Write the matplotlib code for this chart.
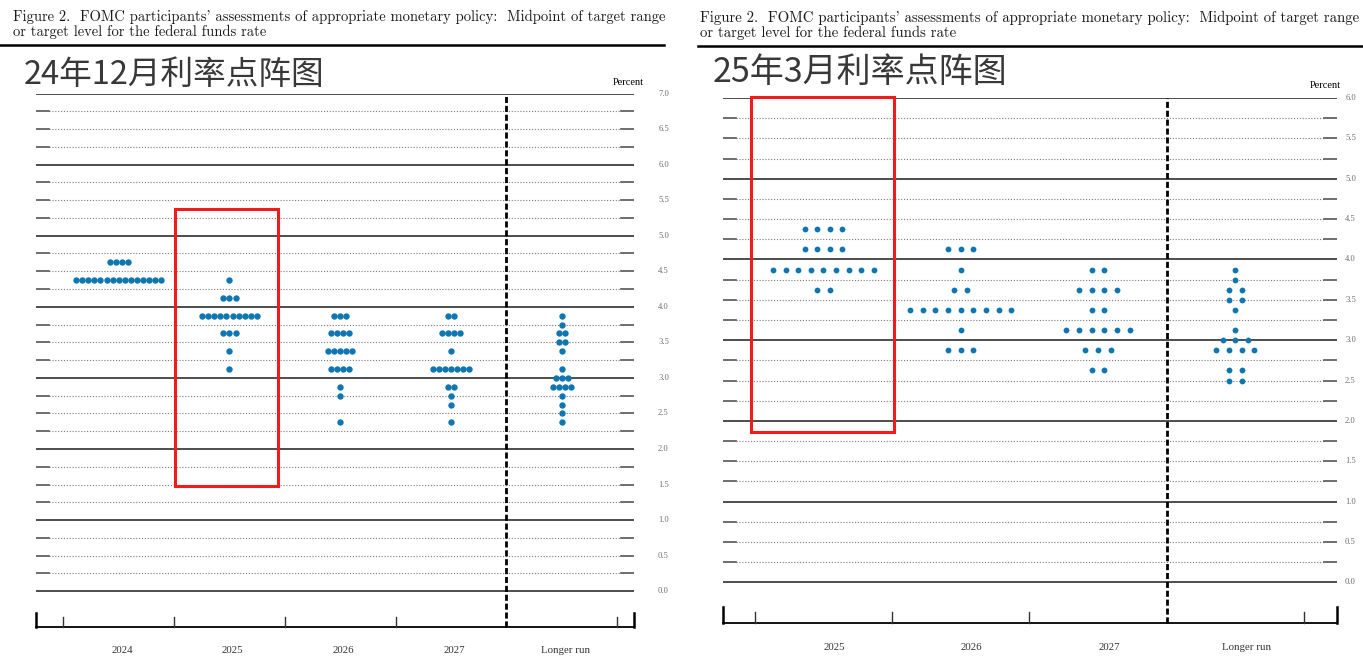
import numpy as np
import matplotlib.pyplot as plt

W, H = 1363, 662

# December 2024 SEP: (midpoint of target range, number of participants)
dec_labels = ["2024", "2025", "2026", "2027", "Longer run"]
dec_2024 = [(4.625, 4), (4.375, 15)]
dec_2025 = [(4.375, 1), (4.125, 3), (3.875, 10), (3.625, 3), (3.375, 1), (3.125, 1)]
dec_2026 = [(3.875, 3), (3.625, 4), (3.375, 5), (3.125, 4), (2.875, 1), (2.75, 1), (2.375, 1)]
dec_2027 = [(3.875, 2), (3.625, 4), (3.375, 1), (3.125, 7), (2.875, 2), (2.75, 1),
            (2.625, 1), (2.375, 1)]
dec_lr = [(3.875, 1), (3.75, 1), (3.625, 2), (3.5, 2), (3.375, 1), (3.125, 1), (3.0, 3),
          (2.875, 4), (2.75, 1), (2.625, 1), (2.5, 1), (2.375, 1)]

# March 2025 SEP
mar_labels = ["2025", "2026", "2027", "Longer run"]
mar_2025 = [(4.375, 4), (4.125, 4), (3.875, 9), (3.625, 2)]
mar_2026 = [(4.125, 3), (3.875, 1), (3.625, 2), (3.375, 9), (3.125, 1), (2.875, 3)]
mar_2027 = [(3.875, 2), (3.625, 4), (3.375, 2), (3.125, 6), (2.875, 3), (2.625, 2)]
mar_lr = [(3.875, 1), (3.75, 1), (3.625, 2), (3.5, 2), (3.375, 1), (3.125, 1), (3.0, 3),
          (2.875, 4), (2.625, 2), (2.5, 2)]

caption1 = "Figure 2.  FOMC participants' assessments of appropriate monetary policy:  Midpoint of target range"
caption2 = "or target level for the federal funds rate"

DOT = "#0f76b2"
GRID = "#4d4d4d"
SERIF = ["Liberation Serif", "DejaVu Serif"]
CAPFONT = ["cmr10", "DejaVu Serif"]

fig = plt.figure(figsize=(W / 100, H / 100), dpi=100)
fig.patch.set_facecolor("white")


def px_axes(x0, x1, ytop, ybot):
    return fig.add_axes([x0 / W, 1 - ybot / H, (x1 - x0) / W, (ybot - ytop) / H])


def caption(x0, x1, y1, y2, rule_x0, rule_x1, yrule):
    t = fig.text(x0 / W, 1 - y1 / H, caption1, family=CAPFONT, fontsize=10,
                 va="center", ha="left", color="#1a1a1a")
    fig.canvas.draw()
    w = t.get_window_extent().width
    fs = 10 * (x1 - x0) / w
    t.set_fontsize(fs)
    fig.text(x0 / W, 1 - y2 / H, caption2, family=CAPFONT, fontsize=fs,
             va="center", ha="left", color="#1a1a1a")
    fig.add_artist(plt.Line2D([rule_x0 / W, rule_x1 / W], [1 - yrule / H] * 2,
                              color="black", lw=1.8))


def panel(ax, cols, labels, ytop, xl, xr, gap, msize, stub, lab_dx, lab_y, tick_x, pct_x, pct_y):
    ax.set_xlim(xl, xr)
    ax.set_ylim(-0.5, ytop)
    ax.axis("off")
    n = len(cols)

    # horizontal guide lines every quarter point
    for v in np.arange(0, ytop + 0.01, 0.25):
        if abs(v - round(v)) < 1e-6:
            ax.plot([xl, xr], [v, v], color=GRID, lw=1.4, zorder=1)
        else:
            ax.plot([xl + stub, xr - stub], [v, v], color="#7a7a7a", lw=0.8,
                    ls=(0, (1, 1.6)), zorder=1)
            ax.plot([xl, xl + stub], [v, v], color="#555555", lw=1.2, zorder=1)
            ax.plot([xr - stub, xr], [v, v], color="#555555", lw=1.2, zorder=1)

    # separator before the longer run column
    sep = n - 1.5
    ax.plot([sep, sep], [-0.5, ytop], color="black", lw=2.0, ls=(0, (2.2, 1.0)),
            zorder=3, clip_on=False)

    # bottom axis with ticks between columns
    ax.plot([xl, xr], [-0.5, -0.5], color="black", lw=1.3, clip_on=False)
    for x in (xl, xr):
        ax.plot([x, x], [-0.5, -0.31], color="black", lw=1.8, clip_on=False)
    for k in range(n + 1):
        x = k - 0.5
        if abs(x - sep) < 1e-6:
            continue
        ax.plot([x, x], [-0.5, -0.37], color="#333333", lw=1.0, clip_on=False)

    # participants' dots
    for i, col in enumerate(cols):
        for rate, count in col:
            xs = i + (np.arange(count) - (count - 1) / 2) * gap
            ax.plot(xs, [rate] * count, "o", color=DOT, ms=msize, mec="none",
                    zorder=4, clip_on=False)

    for i, lab in enumerate(labels):
        ax.text(i + lab_dx, lab_y, lab, family=SERIF, fontsize=7.8, color="#333333",
                ha="center", va="center", clip_on=False)

    tr = ax.get_yaxis_transform()
    for v in np.arange(0, ytop + 0.01, 0.5):
        ax.text(tick_x, v, f"{v:.1f}", transform=tr, family=SERIF, fontsize=6.2,
                color="#6f6f6f", ha="center", va="center")
    ax.text(pct_x, pct_y, "Percent", transform=tr, family=SERIF, fontsize=7.5,
            color="black", ha="center", va="center")


# left: December 2024
caption(13, 663, 17, 32, 0, 664, 44.5)
fig.text(24 / W, 1 - 75 / H, "24年12月利率点阵图", family=["Noto Sans CJK SC", "DejaVu Sans"],
         fontsize=23.5, color="#383838", ha="left", va="center")
ax1 = px_axes(35.7, 634.3, 93.5, 626.7)
panel(ax1, [dec_2024, dec_2025, dec_2026, dec_2027, dec_lr], dec_labels, 7.0,
      -0.749, 4.654, 0.0548, 4.6, 0.118, 0.03, -0.83, 1.0488, 0.9895, 7.148)
ax1.add_patch(plt.Rectangle((0.509, 1.477), 1.44 - 0.509, 5.375 - 1.477, fill=False,
                            ec="#f01c1c", lw=2.2, zorder=5, clip_on=False))

# right: March 2025
caption(700, 1361, 18, 33, 698, 1363, 46)
fig.text(713 / W, 1 - 72 / H, "25年3月利率点阵图", family=["Noto Sans CJK SC", "DejaVu Sans"],
         fontsize=24.5, color="#383838", ha="left", va="center")
ax2 = px_axes(722.5, 1337.3, 98, 622.7)
panel(ax2, [mar_2025, mar_2026, mar_2027, mar_lr], mar_labels, 6.0,
      -0.735, 3.743, 0.0918, 4.2, 0.095, 0.08, -0.81, 1.0215, 0.98, 6.16)
ax2.add_patch(plt.Rectangle((-0.528, 1.86), 0.514 + 0.528, 6.01 - 1.86, fill=False,
                            ec="#f01c1c", lw=2.2, zorder=5, clip_on=False))

fig.savefig("out.png", dpi=100)
